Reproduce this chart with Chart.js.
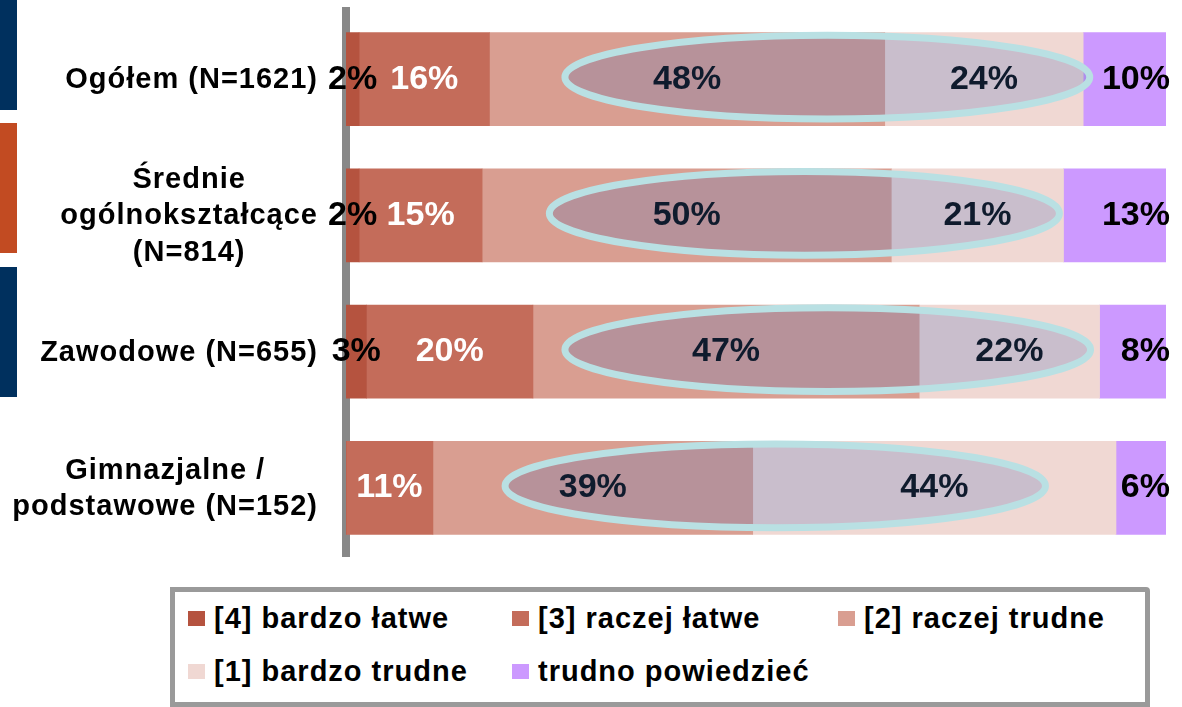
<!DOCTYPE html>
<html>
<head>
<meta charset="utf-8">
<script src="https://cdn.jsdelivr.net/npm/chart.js@4"></script>
<style>
    body { margin: 0; background: #fff; }
    #wrap { position: relative; width: 1182px; height: 707px; overflow: hidden; font-family: "Liberation Sans", Arial, sans-serif; }
    .tab { position: absolute; left: 0; width: 17px; }
    #box { position: absolute; left: 0; top: 0; width: 1182px; height: 570px; }
    #legend { position: absolute; left: 170px; top: 587px; width: 980px; height: 120px; box-sizing: border-box;
              border: 5px solid #9a9a9a; border-radius: 0 4px 0 0; padding-left: 13px;
              display: grid; grid-template-columns: 324px 326px auto; grid-auto-rows: 53px; }
    .item { display: flex; align-items: center; font-weight: bold; font-size: 29px; letter-spacing: 1px; color: #000; }
    .item span.sw { width: 17px; height: 15px; margin-right: 9px; flex: none; }
</style>
</head>
<body>
<div id="wrap">
    <div class="tab" style="top:0;height:110px;background:#00305E"></div>
    <div class="tab" style="top:123px;height:130px;background:#C24B22"></div>
    <div class="tab" style="top:267px;height:130px;background:#00305E"></div>
    <div id="box"><canvas id="myChart"></canvas></div>
    <div id="legend"></div>
</div>
<script>
// categories (rows)
let categories = [
    "Ogółem (N=1621)",
    ["Średnie", "ogólnokształcące", "(N=814)"],
    "Zawodowe (N=655)",
    ["Gimnazjalne /", "podstawowe (N=152)"]
];

// series values in %, one entry per row
let bardzoLatwe = [1.6, 1.6, 2.5, 0];
let raczejLatwe = [15.9, 15.0, 20.3, 10.6];
let raczejTrudne = [48.2, 49.9, 47.1, 39.0];
let bardzoTrudne = [24.2, 21.0, 22.0, 44.3];
let trudnoPowiedziec = [10.1, 12.5, 8.1, 6.1];

let seriesNames = ["[4] bardzo łatwe", "[3] raczej łatwe", "[2] raczej trudne", "[1] bardzo trudne", "trudno powiedzieć"];
let seriesColors = ["#B5533F", "#C46C5A", "#D99E91", "#F0D8D3", "#CC99FF"];
let labelColors = ["#000000", "#FFFFFF", "#0F1B2D", "#0F1B2D", "#000000"];

// highlighted range (in % of the axis) per row
let ovalFrom = [26.7, 24.8, 26.7, 19.4];
let ovalTo = [90.7, 87.0, 90.8, 85.3];

let allSeries = [bardzoLatwe, raczejLatwe, raczejTrudne, bardzoTrudne, trudnoPowiedziec];

// ovals drawn over the bars
const ovalPlugin = {
    id: 'ovals',
    afterDatasetsDraw(chart) {
        const ctx = chart.ctx;
        const xs = chart.scales.x, ys = chart.scales.y;
        const bar = chart.getDatasetMeta(1).data[0];
        const ry = bar.height / 2 * 0.9;
        ctx.save();
        for (let i = 0; i < ovalFrom.length; i++) {
            const x1 = xs.getPixelForValue(ovalFrom[i]);
            const x2 = xs.getPixelForValue(ovalTo[i]);
            const cy = ys.getPixelForValue(i) - 2;
            ctx.beginPath();
            ctx.ellipse((x1 + x2) / 2, cy, (x2 - x1) / 2, ry, 0, 0, Math.PI * 2);
            ctx.fillStyle = 'rgba(84,110,185,0.25)';
            ctx.fill();
            ctx.lineWidth = 7;
            ctx.strokeStyle = '#B9E0E3';
            ctx.stroke();
        }
        ctx.restore();
    }
};

// value labels + category labels
const textPlugin = {
    id: 'texts',
    afterDraw(chart) {
        const ctx = chart.ctx;
        const area = chart.chartArea;
        ctx.save();
        ctx.textBaseline = 'middle';

        // percent labels
        ctx.font = 'bold 34px "Liberation Sans", Arial, sans-serif';
        chart.data.datasets.forEach(function(ds, di) {
            const meta = chart.getDatasetMeta(di);
            meta.data.forEach(function(el, i) {
                const v = ds.data[i];
                if (!v) return;
                ctx.fillStyle = labelColors[di];
                if (di === chart.data.datasets.length - 1) {
                    ctx.textAlign = 'right';
                    ctx.fillText(Math.round(v) + '%', area.right + 4, el.y);
                } else {
                    ctx.textAlign = 'center';
                    ctx.fillText(Math.round(v) + '%', (el.x + el.base) / 2, el.y);
                }
            });
        });

        // category labels, each block right aligned, lines centered
        ctx.font = 'bold 29px "Liberation Sans", Arial, sans-serif';
        ctx.letterSpacing = '1px';
        ctx.fillStyle = '#000';
        ctx.textAlign = 'center';
        const rightEdge = area.left - 28;
        const lh = 36.5;
        chart.data.labels.forEach(function(lab, i) {
            const lines = Array.isArray(lab) ? lab : [lab];
            let widest = 0;
            for (let line of lines) widest = Math.max(widest, ctx.measureText(line).width);
            const cx = rightEdge - widest / 2;
            const cy = chart.scales.y.getPixelForValue(i) + 1;
            lines.forEach(function(line, k) {
                ctx.fillText(line, cx, cy + (k - (lines.length - 1) / 2) * lh);
            });
        });
        ctx.restore();
    }
};

let datasets = allSeries.map(function(vals, i) {
    return {
        label: seriesNames[i],
        data: vals,
        backgroundColor: seriesColors[i],
        borderWidth: 0,
        barThickness: 93
    };
});

var myChart = new Chart(document.getElementById('myChart').getContext('2d'), {
    type: 'bar',
    data: {
        labels: categories,
        datasets: datasets
    },
    options: {
        indexAxis: 'y',
        responsive: true,
        maintainAspectRatio: false,
        animation: false,
        layout: { padding: { left: 338, right: 16, top: 11, bottom: 14 } },
        scales: {
            x: { stacked: true, min: 0, max: 100, display: false },
            y: {
                stacked: true,
                grid: { display: false },
                ticks: { display: false },
                border: { display: true, color: '#888888', width: 8 }
            }
        },
        plugins: {
            legend: { display: false },
            tooltip: { enabled: false }
        }
    },
    plugins: [ovalPlugin, textPlugin]
});

// legend in a bordered box, same order as the original
let legend_html = "";
for (let i = 0; i < seriesNames.length; i++) {
    legend_html += `<div class="item"><span class="sw" style="background:${seriesColors[i]}"></span>${seriesNames[i]}</div>`;
}
document.getElementById("legend").innerHTML = legend_html;
</script>
</body>
</html>
